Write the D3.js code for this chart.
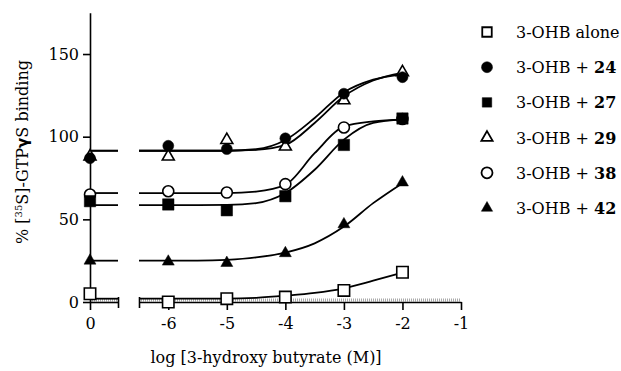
<!DOCTYPE html>
<meta charset="utf-8">
<html>
<head>
<script src="https://d3js.org/d3.v7.min.js"></script>
<style>
  body { margin: 0; background: #fff; }
  text { font-family: "DejaVu Serif", "Liberation Serif", serif; fill: #000; }
</style>
</head>
<body>
<div id="viz"></div>
<script>
// log concentrations of 3-hydroxy butyrate
const conc = [-6, -5, -4, -3, -2];
const fitX = [-6.5, -5.5, -5, -4.5, -4, -3.5, -3, -2.5, -2];

const control = { alone: 5, "24": 87, "27": 61, "29": 88, "38": 65, "42": 25 };
const bottoms = { alone: 2, "24": 91.5, "27": 58.6, "29": 91.5, "38": 65.9, "42": 25 };

const valsAlone = [0, 2, 3, 7, 18];
const vals24 = [94.5, 92.5, 99, 126, 136];
const vals27 = [59, 55.5, 64, 95, 111];
const vals29 = [88, 98, 94, 122, 139];
const vals38 = [67, 66.2, 71.3, 105.6, 110.7];
const vals42 = [24.4, 23.6, 29.5, 47, 72.3];

const fitAlone = [2, 2, 2, 2.5, 3.8, 5.5, 8.3, 12.9, 17.8];
const fit24 = [91.5, 91.5, 91.5, 92.4, 98, 111.3, 126.8, 134.5, 137.6];
const fit27 = [58.6, 58.6, 58.7, 59.8, 65.9, 80, 98.2, 108.3, 110.3];
const fit29 = [91.5, 91.5, 91.5, 92, 95, 108.3, 124.4, 134, 138.6];
const fit38 = [65.9, 65.9, 65.9, 66.8, 70.9, 90, 106.2, 109.3, 110.3];
const fit42 = [25, 25, 25.5, 27, 29.9, 35.5, 45.6, 59.8, 71.9];

const yTicks = [0, 50, 100, 150];
const xTicks = [-6, -5, -4, -3, -2, -1];

const series = [
  { key: "alone", vals: valsAlone, fit: fitAlone, shape: "square", filled: false, label: ["3-OHB alone", ""] },
  { key: "29", vals: vals29, fit: fit29, shape: "triangle", filled: false, label: ["3-OHB + ", "29"] },
  { key: "38", vals: vals38, fit: fit38, shape: "circle", filled: false, label: ["3-OHB + ", "38"] },
  { key: "24", vals: vals24, fit: fit24, shape: "circle", filled: true, label: ["3-OHB + ", "24"] },
  { key: "27", vals: vals27, fit: fit27, shape: "square", filled: true, label: ["3-OHB + ", "27"] },
  { key: "42", vals: vals42, fit: fit42, shape: "triangle", filled: true, label: ["3-OHB + ", "42"] }
];

const w = 621, h = 371;
const fs = 16;
const svg = d3.select("#viz").append("svg")
  .attr("width", w).attr("height", h)
  .style("background-color", "#fff");

const y = d3.scaleLinear().domain([0, 175]).range([302, 12.7]);
const xCtrl = d3.scaleLinear().domain([0, 1]).range([90, 118]);
const x = d3.scaleLinear().domain([-6.5, -1]).range([139, 461]);

const symTypes = { circle: d3.symbolCircle, square: d3.symbolSquare, triangle: d3.symbolTriangle };
const symbols = {
  circle: d3.symbol().type(d3.symbolCircle).size(95),
  square: d3.symbol().type(d3.symbolSquare).size(130),
  triangle: d3.symbol().type(d3.symbolTriangle).size(62)
};

// gray band under the x axis
const band = svg.append("g");
[[xCtrl(0), xCtrl(1)], [x(-6.5), x(-1)]].forEach(r => {
  band.append("line").attr("x1", r[0]).attr("x2", r[1])
    .attr("y1", y(0) - 2).attr("y2", y(0) - 2)
    .attr("stroke", "#aaa").attr("stroke-width", 3).attr("stroke-dasharray", "1,1");
});

const yAxis = svg.append("g")
  .attr("transform", `translate(${xCtrl(0)},0)`)
  .call(d3.axisLeft(y).tickValues(yTicks).tickSize(7).tickPadding(4).tickSizeOuter(0));

const xAxisL = svg.append("g")
  .attr("transform", `translate(0,${y(0)})`)
  .call(d3.axisBottom(xCtrl).tickValues([0, 1]).tickSize(8).tickSizeOuter(0).tickPadding(8)
    .tickFormat(d => d === 0 ? "0" : ""));
const xAxisR = svg.append("g")
  .attr("transform", `translate(0,${y(0)})`)
  .call(d3.axisBottom(x).tickValues([-6.5].concat(xTicks)).tickSize(8).tickSizeOuter(0).tickPadding(8)
    .tickFormat(d => d === -6.5 ? "" : String(d)));
[yAxis, xAxisL, xAxisR].forEach(a => {
  a.select(".domain").attr("stroke-width", 1.6);
  a.selectAll(".tick line").attr("stroke-width", 1.6);
  a.selectAll(".tick text").attr("font-size", fs);
});
// break-end ticks reach a little above the axis
xAxisL.selectAll(".tick").filter(d => d === 1).select("line").attr("y1", -5).attr("y2", 6);
xAxisR.selectAll(".tick").filter(d => d === -6.5).select("line").attr("y1", -5).attr("y2", 6);

// titles
svg.append("text")
  .attr("x", 266).attr("y", 363)
  .attr("text-anchor", "middle").attr("font-size", fs)
  .text("log [3-hydroxy butyrate (M)]");

const yt = svg.append("text")
  .attr("transform", "translate(28,152) rotate(-90)")
  .attr("text-anchor", "middle").attr("font-size", fs);
yt.append("tspan").text("% [");
yt.append("tspan").attr("font-size", 10).attr("dy", -6).text("35");
yt.append("tspan").attr("dy", 6).text("S]-GTP");
yt.append("tspan").attr("font-family", "DejaVu Sans").attr("font-weight", "bold").attr("font-size", 15).text("γ");
yt.append("tspan").text("S binding");

// fitted curves
const line = d3.line().x(d => x(d[0])).y(d => y(d[1])).curve(d3.curveMonotoneX);
const plot = svg.append("g");
series.forEach(s => {
  plot.append("path")
    .attr("d", line(fitX.map((v, i) => [v, s.fit[i]])))
    .attr("fill", "none").attr("stroke", "#000").attr("stroke-width", 1.8);
  plot.append("line")
    .attr("x1", xCtrl(0)).attr("x2", xCtrl(1))
    .attr("y1", y(bottoms[s.key])).attr("y2", y(bottoms[s.key]))
    .attr("stroke", "#000").attr("stroke-width", 1.8);
});

// markers
series.forEach(s => {
  const pts = [[xCtrl(0), y(control[s.key])]].concat(conc.map((c, i) => [x(c), y(s.vals[i])]));
  plot.selectAll(null).data(pts).join("path")
    .attr("d", symbols[s.shape])
    .attr("transform", d => `translate(${d[0]},${d[1]})`)
    .attr("fill", s.filled ? "#000" : "#fff")
    .attr("stroke", "#000").attr("stroke-width", s.filled ? 0.5 : 1.6);
});

// legend
const legendOrder = ["alone", "24", "27", "29", "38", "42"];
const legendSize = { square: 90, circle: 95, triangle: 55 };
const legend = svg.append("g");
legendOrder.forEach((k, i) => {
  const s = series.find(d => d.key === k);
  const gy = 32 + i * 35.2;
  legend.append("path")
    .attr("d", d3.symbol().type(symTypes[s.shape]).size(legendSize[s.shape]))
    .attr("transform", `translate(487,${gy})`)
    .attr("fill", s.filled ? "#000" : "#fff")
    .attr("stroke", "#000").attr("stroke-width", s.filled ? 0.5 : 1.8);
  const t = legend.append("text").attr("x", 516).attr("y", gy + 6).attr("font-size", fs);
  t.append("tspan").text(s.label[0]);
  if (s.label[1]) t.append("tspan").attr("font-weight", "bold").text(s.label[1]);
});
</script>
</body>
</html>
